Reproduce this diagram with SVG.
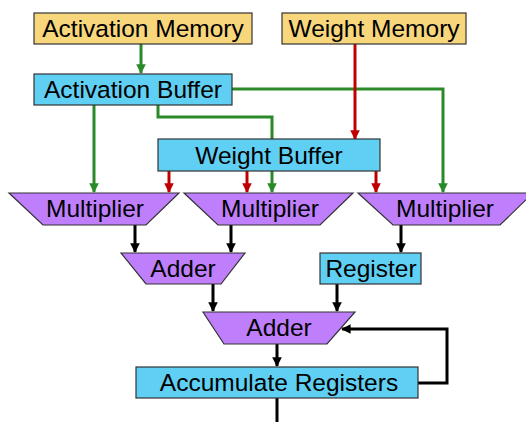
<svg xmlns="http://www.w3.org/2000/svg" width="526" height="422" viewBox="0 0 526 422">
  <style>
    .mem { fill: #F8D67C; stroke: #333; stroke-width: 1.2; }
    .buf { fill: #5FCFF3; stroke: #333; stroke-width: 1.2; }
    .alu { fill: #BF7FFD; stroke: #333; stroke-width: 1.2; }
    text { font-family: "Liberation Sans", Arial, sans-serif; font-size: 24.5px; fill: #000; text-anchor: middle; }
    .g { fill: none; stroke: #2A8A2A; stroke-width: 3; }
    .r { fill: none; stroke: #C00000; stroke-width: 3; }
    .k { fill: none; stroke: #000; stroke-width: 3; }
  </style>
  <defs>
    <marker id="ag" viewBox="0 0 10 10" refX="9" refY="5" markerWidth="3.2" markerHeight="3.2" orient="auto" markerUnits="strokeWidth">
      <path d="M0,0 L10,5 L0,10 z" fill="#2A8A2A"/>
    </marker>
    <marker id="ar" viewBox="0 0 10 10" refX="9" refY="5" markerWidth="3.2" markerHeight="3.2" orient="auto" markerUnits="strokeWidth">
      <path d="M0,0 L10,5 L0,10 z" fill="#C00000"/>
    </marker>
    <marker id="ak" viewBox="0 0 10 10" refX="9" refY="5" markerWidth="3.2" markerHeight="3.2" orient="auto" markerUnits="strokeWidth">
      <path d="M0,0 L10,5 L0,10 z" fill="#000"/>
    </marker>
  </defs>

  <g id="connectors">
    <!-- activation paths -->
    <path class="g" d="M141,44 V73" marker-end="url(#ag)"/>
    <path class="g" d="M232,89 H443 V192" marker-end="url(#ag)"/>
    <path class="g" d="M94,105 V192" marker-end="url(#ag)"/>
    <path class="g" d="M158,105 V117 H272 V192" marker-end="url(#ag)"/>
    <!-- weight paths -->
    <path class="r" d="M355,44 V139" marker-end="url(#ar)"/>
    <path class="r" d="M169,171 V192" marker-end="url(#ar)"/>
    <path class="r" d="M247,171 V192" marker-end="url(#ar)"/>
    <path class="r" d="M376,171 V192" marker-end="url(#ar)"/>
    <!-- datapath -->
    <path class="k" d="M135,225 V252" marker-end="url(#ak)"/>
    <path class="k" d="M231,225 V252" marker-end="url(#ak)"/>
    <path class="k" d="M401,225 V252" marker-end="url(#ak)"/>
    <path class="k" d="M213,284 V311" marker-end="url(#ak)"/>
    <path class="k" d="M337,284 V311" marker-end="url(#ak)"/>
    <path class="k" d="M277,344 V366" marker-end="url(#ak)"/>
    <path class="k" d="M418,383 H447 V329 H342" marker-end="url(#ak)"/>
    <path class="k" d="M277,398 V422"/>
  </g>

  <g id="activation-memory">
    <rect class="mem" x="34" y="13" width="218" height="31"/>
    <text x="143" y="37">Activation Memory</text>
  </g>
  <g id="weight-memory">
    <rect class="mem" x="282" y="13" width="184" height="31"/>
    <text x="374" y="37">Weight Memory</text>
  </g>
  <g id="activation-buffer">
    <rect class="buf" x="34" y="74" width="198" height="31"/>
    <text x="133" y="98">Activation Buffer</text>
  </g>
  <g id="weight-buffer">
    <rect class="buf" x="158" y="139" width="222" height="32"/>
    <text x="269" y="164">Weight Buffer</text>
  </g>
  <g id="multiplier-1">
    <polygon class="alu" points="9,193 179,193 146,225 43,225"/>
    <text x="95" y="217">Multiplier</text>
  </g>
  <g id="multiplier-2">
    <polygon class="alu" points="184,193 353,193 320,225 218,225"/>
    <text x="270" y="217">Multiplier</text>
  </g>
  <g id="multiplier-3">
    <polygon class="alu" points="358,193 533,193 500,225 393,225"/>
    <text x="445" y="217">Multiplier</text>
  </g>
  <g id="adder-1">
    <polygon class="alu" points="121,253 245,253 221,284 146,284"/>
    <text x="183" y="277">Adder</text>
  </g>
  <g id="register">
    <rect class="buf" x="320" y="253" width="101" height="31"/>
    <text x="371" y="277">Register</text>
  </g>
  <g id="adder-2">
    <polygon class="alu" points="203,312 355,312 327,344 224,344"/>
    <text x="279" y="336">Adder</text>
  </g>
  <g id="accumulate-registers">
    <rect class="buf" x="136" y="367" width="282" height="31"/>
    <text x="279" y="391">Accumulate Registers</text>
  </g>
</svg>
